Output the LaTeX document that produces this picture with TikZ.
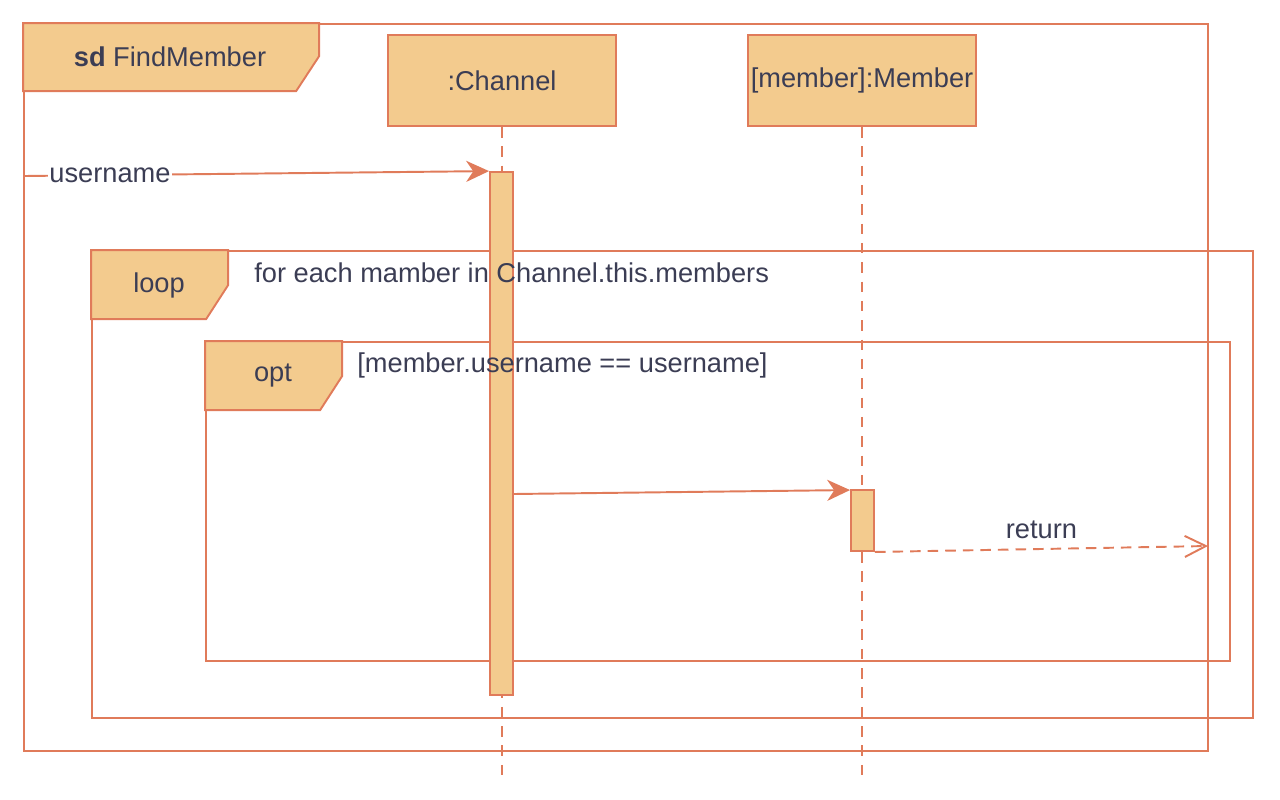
\documentclass[tikz,border=0pt]{standalone}
\usepackage{fontspec}
\setmainfont{Liberation Sans}
\usetikzlibrary{arrows.meta, calc, positioning}
\definecolor{umlline}{HTML}{E07B5A}
\definecolor{umlfill}{HTML}{F3CB8E}
\definecolor{umltext}{HTML}{3B3D54}
\tikzstyle{lifebox} = [rectangle, minimum width=4.56cm, minimum height=1.82cm, inner xsep=1pt, text centered, draw=umlline, fill=umlfill, line width=1.1pt, text=umltext, font=\fontsize{15.5}{18}\selectfont]
\tikzstyle{frame} = [rectangle, draw=umlline, line width=1.1pt, inner sep=0pt]
\tikzstyle{tab} = [draw=umlline, fill=umlfill, line width=1.1pt, line join=miter]
\tikzstyle{activation} = [rectangle, draw=umlline, fill=umlfill, line width=1.1pt, minimum width=0.46cm, inner sep=0pt]
\tikzstyle{lifeline} = [draw=umlline, line width=1.1pt, dash pattern=on 6pt off 5pt]
\tikzstyle{msg} = [draw=umlline, line width=1.1pt, -{Stealth[length=13pt, width=12pt, inset=4pt]}]
\tikzstyle{reply} = [draw=umlline, line width=1.1pt, dash pattern=on 6pt off 4pt, -{Straight Barb[length=12pt, width=12pt]}]
\tikzstyle{msgtext} = [text=umltext, font=\fontsize{15.5}{18}\selectfont]

\begin{document}
\begin{tikzpicture}[x=0.02cm, y=-0.02cm]
    \useasboundingbox (0,0) rectangle (1280,799);

    % frames
    \node (sdframe) [frame, minimum width=23.68cm, minimum height=14.54cm] at (616,387.5) {};
    \node (loopframe) [frame, minimum width=23.22cm, minimum height=9.34cm] at (672.5,484.5) {};
    \node (optframe) [frame, minimum width=20.48cm, minimum height=6.38cm] at (718,501.5) {};

    % tabs
    \draw [tab] (sdframe.north west) -- ++(296,0) -- ++(0,33) -- ++(-23,35) -- ++(-273,0) -- cycle;
    \draw [tab] (loopframe.north west) -- ++(137,0) -- ++(0,35) -- ++(-22,34) -- ++(-115,0) -- cycle;
    \draw [tab] (optframe.north west) -- ++(137,0) -- ++(0,35) -- ++(-22,34) -- ++(-115,0) -- cycle;

    % lifelines
    \node (channel) [lifebox] at (502,80.5) {:Channel};
    \node (member) [lifebox] at (862,80.5) {[member]:Member};
    \coordinate (channelend) at (502,775);
    \coordinate (memberend) at (862,775);
    \draw [lifeline] (channel.south) -- (channelend);
    \draw [lifeline] (member.south) -- (memberend);

    % activations
    \node (chanact) [activation, minimum height=10.46cm] at (501.5,433.5) {};
    \node (memberact) [activation, minimum height=1.22cm] at (862.5,520.5) {};

    % arrows
    \coordinate (gatein) at (24,176);
    \coordinate (retend) at (1208,546);
    \draw [msg] (gatein) -- node (usernamelbl) [msgtext, fill=white, inner sep=1pt, pos=0.185] {username} (chanact.north west);
    \draw [msg] ([yshift=-1.21cm]chanact.east) -- ([yshift=-0.02cm]memberact.north west);
    \draw [reply] (memberact.south east) -- node (returnlbl) [msgtext, above, pos=0.5, yshift=2pt] {return} (retend);

    % texts
    \node (sdtitle) [msgtext] at (170,57) {\textbf{sd} FindMember};
    \node (looptitle) [msgtext] at (159,285) {loop};
    \node (opttitle) [msgtext] at (273,376) {opt};
    \node (loopguard) [msgtext, anchor=west, inner sep=0pt] at (254,273) {for each mamber in Channel.this.members};
    \node (optguard) [msgtext, anchor=west, inner sep=0pt] at (357,365) {[member.username == username]};
\end{tikzpicture}
\end{document}
